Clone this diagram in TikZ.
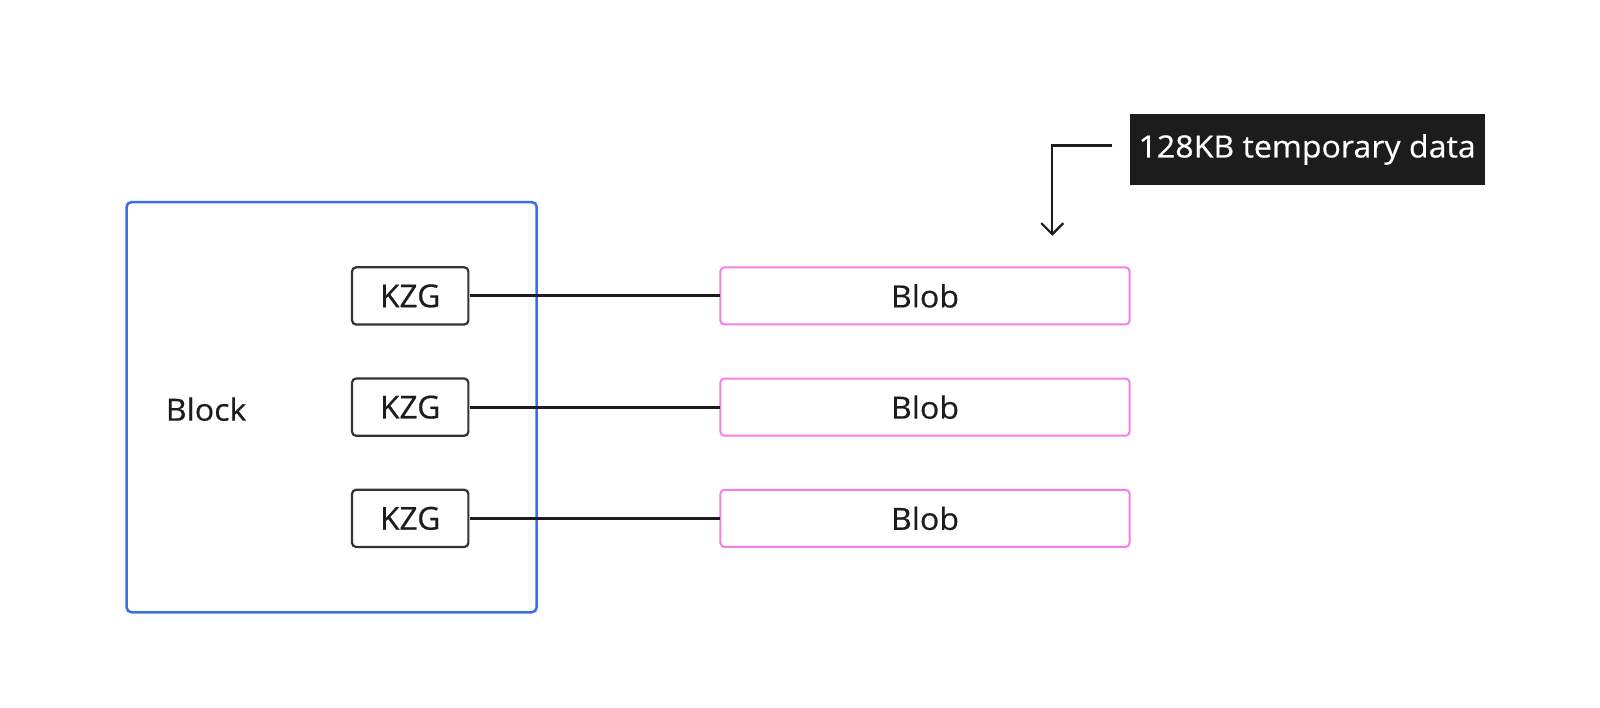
\documentclass[tikz,border=0pt]{standalone}
\usepackage{fontspec}
\setmainfont[FakeBold=0.5]{Open Sans}
\newfontfamily\widefont[FakeStretch=1.05,FakeBold=0.5]{Open Sans}
\usetikzlibrary{arrows.meta}
\definecolor{blockblue}{HTML}{3B6FE6}
\definecolor{blobpink}{HTML}{F47FE6}
\definecolor{ink}{HTML}{1C1C1C}
\begin{document}
\begin{tikzpicture}[x=1pt,y=-1pt,
  txt/.style={font=\fontsize{31}{34}\selectfont, text=ink},
  widetxt/.style={font=\widefont\fontsize{30}{34}\selectfont, text=ink},
  kzgbox/.style={draw=ink!90, line width=2.2pt, rounded corners=4pt, minimum width=114pt, minimum height=56pt, inner sep=0pt, txt},
  blobbox/.style={draw=blobpink, line width=2pt, rounded corners=4pt, minimum width=401pt, minimum height=56pt, inner sep=0pt, widetxt},
  conn/.style={draw=ink, line width=3pt},
  labelbox/.style={fill=ink, text=white, minimum width=348pt, minimum height=69pt, inner sep=0pt, font=\widefont\fontsize{30}{34}\selectfont}
]
\useasboundingbox[fill=white] (0,0) rectangle (1600,707);
\begin{scope}[scale=1.0204, transform shape]
\node[draw=blockblue, line width=2.5pt, rounded corners=5pt, minimum width=402pt, minimum height=402pt, inner sep=0pt] (block) at (325,399) {};
\node[widetxt, anchor=west] (blocklabel) at (159,401) {Block};
\node[kzgbox] (k1) at (402,290) {KZG};
\node[kzgbox] (k2) at (402,399) {KZG};
\node[kzgbox] (k3) at (402,508) {KZG};
\node[blobbox] (b1) at (906.5,290) {Blob};
\node[blobbox] (b2) at (906.5,399) {Blob};
\node[blobbox] (b3) at (906.5,508) {Blob};
\draw[conn] (k1.east) -- (b1.west);
\draw[conn] (k2.east) -- (b2.west);
\draw[conn] (k3.east) -- (b3.west);
\node[labelbox] (lab) at (1281,146.5) {128KB temporary data};
\coordinate (tip) at (1031,231);
\draw[ink, line width=2.2pt, -{Straight Barb[length=11pt,width=22pt]}] ([xshift=-17pt,yshift=4pt]lab.west) -| (tip);
\end{scope}
\end{tikzpicture}
\end{document}
